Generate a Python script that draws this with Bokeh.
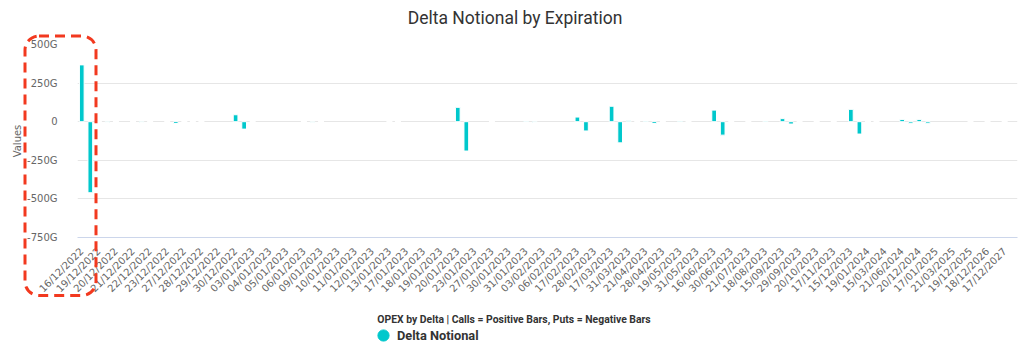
import math
from bokeh.plotting import figure
from bokeh.models import (Range1d, FixedTicker, Label, Legend, LegendItem,
                          BoxAnnotation, GridBox)
from bokeh.core.properties import value
from bokeh.embed import file_html
from bokeh.resources import INLINE

# ---------------- data (G = billions of delta notional) ----------------
expirations = [
    "16/12/2022", "19/12/2022", "20/12/2022", "21/12/2022", "22/12/2022",
    "23/12/2022", "27/12/2022", "28/12/2022", "29/12/2022", "30/12/2022",
    "03/01/2023", "04/01/2023", "05/01/2023", "06/01/2023", "09/01/2023",
    "10/01/2023", "11/01/2023", "12/01/2023", "13/01/2023", "17/01/2023",
    "18/01/2023", "19/01/2023", "20/01/2023", "23/01/2023", "27/01/2023",
    "30/01/2023", "31/01/2023", "03/02/2023", "06/02/2023", "17/02/2023",
    "28/02/2023", "17/03/2023", "31/03/2023", "21/04/2023", "28/04/2023",
    "19/05/2023", "31/05/2023", "16/06/2023", "30/06/2023", "21/07/2023",
    "18/08/2023", "15/09/2023", "29/09/2023", "20/10/2023", "17/11/2023",
    "15/12/2023", "19/01/2024", "15/03/2024", "21/06/2024", "20/12/2024",
    "17/01/2025", "21/03/2025", "19/12/2025", "18/12/2026", "17/12/2027",
]
call_delta = [
    368, 0, 0, 0, 0, 0, 0, 0, None, 45,
    0, None, None, 0, 0, None, None, None, 0, None,
    None, None, 93, None, 0, None, 4, None, None, 30,
    None, 100, 6, 5, 0, 5, None, 75, 0, 0,
    5, 20, 0, 0, 0, 80, 0, None, 15, 15,
    None, None, 0, 0, 0,
]
put_delta = [
    -460, -5, None, -5, None, -12, 0, None, None, -48,
    None, None, None, -4, None, None, None, None, 0, None,
    None, None, -190, None, None, None, -5, None, None, -60,
    None, -137, 0, -12, None, 0, None, -87, None, None,
    None, -15, None, None, None, -80, 0, None, -10, -10,
    None, None, None, None, None,
]
y_ticks = [-750, -500, -250, 0, 250, 500]

title_text = "Delta Notional by Expiration"
subtitle_text = "OPEX by Delta | Calls = Positive Bars, Puts = Negative Bars"
series_name = "Delta Notional"

# ---------------- build point table (calls then puts per expiry) -------
xs, vals = [], []
for k, (c, p_) in enumerate(zip(call_delta, put_delta)):
    xs += [2 * k, 2 * k + 1]
    vals += [c, p_]

bar_x = [x for x, v in zip(xs, vals) if v not in (None, 0)]
bar_top = [v for v in vals if v not in (None, 0)]
zero_x = [x for x, v in zip(xs, vals) if v == 0]

BAR = "#00c8cc"
FONT = "DejaVu Sans"
W, H = 1024, 350

p = figure(width=W, height=H, output_backend="svg", toolbar_location=None,
           x_range=Range1d(-0.5, len(xs) - 0.5),
           y_range=Range1d(y_ticks[0], y_ticks[-1]),
           min_border_left=77, min_border_right=7,
           min_border_top=44, min_border_bottom=113)
p.outline_line_color = None
p.background_fill_color = "white"
p.border_fill_color = "white"

# bars
p.vbar(x=bar_x, top=bar_top, bottom=0, width=0.55,
       fill_color=BAR, line_color="white", line_width=1)
# zero-value points: white border over the zero line
p.rect(x=zero_x, y=[0] * len(zero_x), width=0.7, height=2,
       height_units="screen", fill_color="white", line_color=None)

# axes
xa = p.xaxis[0]
xa.ticker = FixedTicker(ticks=xs[::2])
xa.major_label_overrides = {x: d for x, d in zip(xs[::2], expirations)}
xa.major_label_orientation = math.pi / 4
xa.major_label_text_font = FONT
xa.major_label_text_font_size = "10px"
xa.major_label_text_color = "#666666"
xa.major_tick_line_color = None
xa.minor_tick_line_color = None
xa.major_label_standoff = 6
xa.axis_line_color = "#ccd6eb"

ya = p.yaxis[0]
ya.ticker = FixedTicker(ticks=y_ticks)
ya.major_label_overrides = {v: (f"{v}G" if v else "0") for v in y_ticks}
ya.major_label_text_font = FONT
ya.major_label_text_font_size = "10px"
ya.major_label_text_color = "#666666"
ya.major_tick_line_color = None
ya.minor_tick_line_color = None
ya.axis_line_color = None
ya.major_label_standoff = 14
ya.axis_label = "Values"
ya.axis_label_text_font = FONT
ya.axis_label_text_font_size = "10px"
ya.axis_label_text_font_style = "normal"
ya.axis_label_text_color = "#666666"
ya.axis_label_standoff = 1

p.xgrid.visible = False
p.ygrid.grid_line_color = "#e6e6e6"
p.ygrid.ticker = FixedTicker(ticks=y_ticks)

# ---------------- transparent overlay in canvas pixels -----------------
ov = figure(width=W, height=H, output_backend="svg", toolbar_location=None,
            x_range=Range1d(0, W), y_range=Range1d(H, 0),
            x_axis_location=None, y_axis_location=None, min_border=0)
ov.outline_line_color = None
ov.background_fill_alpha = 0
ov.border_fill_alpha = 0
ov.grid.visible = False
if "frame_align" in ov.properties():
    ov.frame_align = False
    p.frame_align = False

ov.add_layout(Label(x=514.5, y=17, text=title_text,
                    text_align="center", text_baseline="middle",
                    text_font="Roboto", text_font_size="17.5px",
                    text_color="#333333"))
ov.add_layout(Label(x=513.5, y=319, text=subtitle_text,
                    text_align="center", text_baseline="middle",
                    text_font="Roboto", text_font_size="10.4px",
                    text_font_style="bold", text_color="#333333"))

leg_r = ov.scatter(x=[float("nan")], y=[float("nan")], marker="circle",
                   fill_color=BAR, line_color=BAR)
legend = Legend(items=[LegendItem(label=value(series_name), renderers=[leg_r])],
                location=(369, 1), orientation="horizontal",
                padding=0, margin=0, spacing=0,
                glyph_width=28, glyph_height=28, label_standoff=0,
                label_text_font="Roboto", label_text_font_size="12.8px",
                label_text_font_style="bold", label_text_color="#333333",
                border_line_color=None, background_fill_alpha=0)
ov.add_layout(legend, "center")

# red dashed highlight box around the first expiry
ov.add_layout(BoxAnnotation(left=24.5, right=95.5, top=35.5, bottom=295,
                            fill_alpha=0, line_color="#f2391f", line_alpha=1.0,
                            line_width=3, line_dash="10 6", border_radius=14))

layout = GridBox(children=[(p, 0, 0), (ov, 0, 0)])

open("out.html", "w").write(file_html(layout, INLINE))
